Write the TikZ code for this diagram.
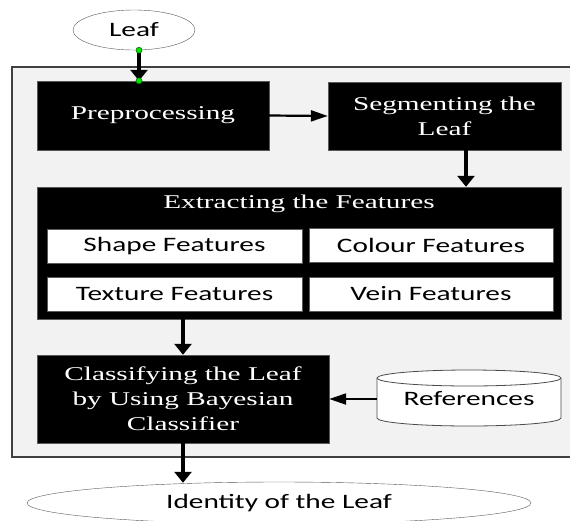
\documentclass[tikz,border=0pt]{standalone}
\usepackage{fontspec}
\usetikzlibrary{shapes,arrows.meta}
\newfontfamily\stepfont[FakeStretch=1.5]{Liberation Serif}
\newfontfamily\tagfont[FakeStretch=1.43]{Carlito}
\definecolor{panelgray}{HTML}{F2F2F2}
\definecolor{edgegray}{HTML}{595959}
\tikzset{%
	block/.style    = {draw=edgegray, fill=black, text=white, rectangle, align=center,
		font=\stepfont\fontsize{19.5}{25}\selectfont}, % black step
	feature/.style  = {draw=edgegray, fill=white, rectangle, minimum width=255pt,
		minimum height=34pt, font=\tagfont\fontsize{20.5}{24}\selectfont}, % feature
	terminal/.style = {draw=edgegray, fill=white, ellipse, inner sep=0pt,
		font=\tagfont\fontsize{20.5}{24}\selectfont}, % start / end
	hflow/.style    = {line width=2.2pt, -{Triangle[length=17pt,width=11pt]}},
	vflow/.style    = {line width=3.4pt, -{Triangle[length=11pt,width=17pt]}},
	greendot/.style = {draw=green!45!black, fill=green!90!black, line width=0.6pt}
}

\begin{document}
\begin{tikzpicture}[x=1pt,y=-1pt]
			\useasboundingbox (0,0) rectangle (570,520);
			\draw[draw=black!75, fill=panelgray, line width=1.2pt] (12,67) rectangle (600,457);
			
			\node[terminal, minimum width=122pt, minimum height=40pt] (leaf) at (134,30) {Leaf};
			\node[block, minimum width=232pt, minimum height=69pt] (prep) at (153,115.5) {Preprocessing};
			\node[block, minimum width=233pt, minimum height=68pt] (seg) at (444.5,116) {Segmenting the\\Leaf};
			\node[block, minimum width=524pt, minimum height=132pt] (feat) at (299,253) {};
			\node[block, draw=none, fill=none] (feathead) at (299,204) {Extracting the Features};
			\node[feature] (shape) at (174.5,246) {Shape Features};
			\node[feature, minimum width=244pt] (colour) at (431,245.5) {Colour Features};
			\node[feature] (texture) at (174.5,294) {Texture Features};
			\node[feature, minimum width=244pt] (vein) at (431,294) {Vein Features};
			\node[block, minimum width=292pt, minimum height=88pt] (cls) at (183,399) {Classifying the Leaf\\by Using Bayesian\\Classifier};
			
			% references store
			\draw[draw=black!70, fill=white, line width=0.8pt] (377,378) -- (377,418)
				arc[start angle=180, end angle=360, x radius=92pt, y radius=8pt] -- (561,378)
				arc[start angle=0, end angle=180, x radius=92pt, y radius=8pt] -- cycle;
			\draw[draw=black!70, line width=0.8pt] (377,378) arc[start angle=180, end angle=360, x radius=92pt, y radius=8pt];
			\node[font=\tagfont\fontsize{20.5}{24}\selectfont, minimum width=184pt, minimum height=56pt] (refs) at (469,399) {References};
			
			\node[terminal, minimum width=504pt, minimum height=42pt] (ident) at (279,503) {Identity of the Leaf};
			
			\draw[vflow]   ([xshift=5pt]leaf.south) -- ([xshift=5pt]leaf.south |- prep.north);
			\draw[hflow]   (prep.east) -- (seg.west);
			\draw[vflow]   ([xshift=21.5pt]seg.south) -- ([xshift=21.5pt]seg.south |- feat.north);
			\draw[vflow]   (cls.north |- feat.south) -- (cls.north);
			\draw[hflow]   (refs.west) -- (cls.east);
			\draw[vflow]   (cls.south) -- ([yshift=-1pt]cls.south |- ident.north);
			\filldraw[greendot] ([xshift=5pt]leaf.south) circle (3pt);
			\filldraw[greendot] ([xshift=5pt]leaf.south |- prep.north) circle (3pt);
		\end{tikzpicture}
\end{document}
